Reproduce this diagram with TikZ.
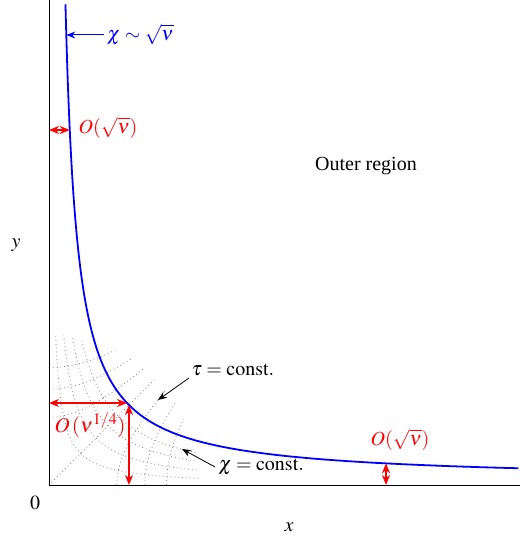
\documentclass[tikz,border=0pt]{standalone}
\usepackage{mathptmx}
\usepackage{fontspec}
\setmainfont{Liberation Serif}
\usetikzlibrary{arrows.meta, calc}

\begin{document}
\begin{tikzpicture}[x=10pt, y=10pt, font=\fontsize{20}{24}\selectfont,
  gridline/.style={gray, line width=0.8pt, dash pattern=on 0.8pt off 3pt},
  redarrow/.style={red, line width=1.5pt, {Stealth[length=10pt, width=8pt]}-{Stealth[length=10pt, width=8pt]}},
  pointer/.style={black, line width=0.8pt, -{Stealth[length=9pt, width=7pt]}}]
\useasboundingbox (-4.9,-5.5) rectangle (47.1,48.5);

% Curvilinear grid near the corner
\begin{scope}
\clip (0,0) circle (15);
\foreach \c in {10,22,35,47.5}
  \draw[gridline] plot[domain=-2.2:2.2, samples=80] ({sqrt(\c)*exp(\x)}, {sqrt(\c)*exp(-\x)});
\foreach \d in {46,92,138} {
  \draw[gridline] plot[domain=0:1.8, samples=60] ({sqrt(\d)*cosh(\x)}, {sqrt(\d)*sinh(\x)});
  \draw[gridline] plot[domain=0:1.8, samples=60] ({sqrt(\d)*sinh(\x)}, {sqrt(\d)*cosh(\x)});
}
\draw[gridline] (0,0) -- (15,15);
\end{scope}

% Axes
\coordinate (orig) at (0,0);
\coordinate (ytop) at (0,48.5);
\coordinate (xend) at (47.1,0);
\draw[line width=0.8pt] (ytop) -- (orig) -- (xend);
\node (ylbl) at (-3.3,24) {$y$};
\node (xlbl) at (24,-4.2) {$x$};
\node (zero) at (-1.4,-1.8) {$0$};

% Boundary curve
\draw[blue, line width=1.8pt] plot[domain=0.18:3.84, samples=200] ({0.45+exp(\x)}, {0.45+57*exp(-\x)});

\node (outer) at (31.7,31.9) {Outer region};

% Curve asymptotics
\node[blue, anchor=west, inner sep=3pt] (chilbl) at (5.5,45) {$\chi\sim\sqrt{\nu}$};
\coordinate (cvtop) at ({0.45+57/44.55},45);
\draw[blue, line width=1pt, -{Stealth[length=9pt, width=7pt]}] (chilbl.west) -- (cvtop);

% Thickness estimates
\coordinate (axl) at (0,35.5);
\coordinate (cvl) at ({0.45+57/35.05},35.5);
\draw[redarrow] (axl) -- (cvl);
\node[red] (olft) at (5.9,35.7) {$O(\sqrt{\nu})$};

\coordinate (axr) at (33.7,0);
\coordinate (cvr) at (33.7,{0.45+57/33.25});
\draw[redarrow] (axr) -- (cvr);
\node[red] (orgt) at (35.1,4.5) {$O(\sqrt{\nu})$};

\coordinate (axc) at (0,8.2);
\coordinate (cvc) at ({0.45+57/7.75},8.2);
\draw[redarrow] (axc) -- (cvc);
\coordinate (axb) at (8.0,0);
\coordinate (cvb) at (8.0,{0.45+57/7.55});
\draw[redarrow] (axb) -- (cvb);
\node[red, font=\fontsize{21}{25}\selectfont] (ocrn) at (4.1,6.0) {$O\,(\nu^{\mbox{\fontsize{16}{18}\selectfont$1/4$}})$};

% Grid labels
\node[anchor=west] (taulbl) at (13.9,11.5) {$\tau=\mathrm{const.}$};
\coordinate (tautip) at (10.9,8.5);
\draw[pointer] ($(taulbl.west)+(0.1,-0.8)$) -- (tautip);
\node[anchor=west] (chiclbl) at (16.6,1.8) {$\chi=\mathrm{const.}$};
\coordinate (chitip) at (13.3,3.6);
\draw[pointer] (chiclbl.west) -- (chitip);
\end{tikzpicture}
\end{document}
